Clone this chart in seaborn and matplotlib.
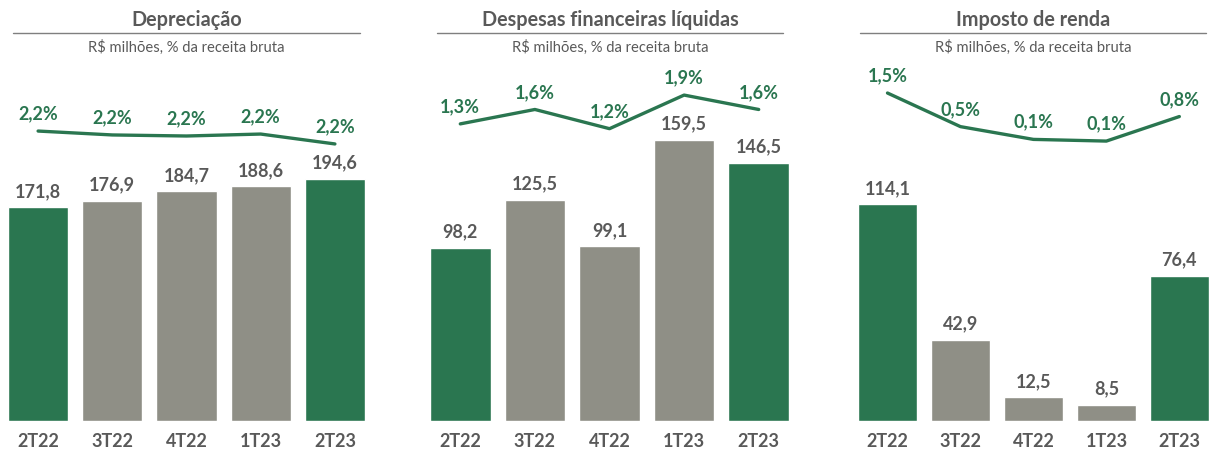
import numpy as np
import pandas as pd
import matplotlib
matplotlib.use("Agg")
import matplotlib.pyplot as plt
from matplotlib.lines import Line2D
import seaborn as sns

# ---------------- data ----------------
categories = ["2T22", "3T22", "4T22", "1T23", "2T23"]

dep_values = [171.8, 176.9, 184.7, 188.6, 194.6]
dep_pct = [2.243, 2.217, 2.21, 2.223, 2.157]

desp_values = [98.2, 125.5, 99.1, 159.5, 146.5]
desp_pct = [1.3, 1.6, 1.2, 1.9, 1.6]

ir_values = [114.1, 42.9, 12.5, 8.5, 76.4]
ir_pct = [1.5, 0.5, 0.12, 0.07, 0.8]

titles = ["Depreciação", "Despesas financeiras líquidas", "Imposto de renda"]
subtitle = "R$ milhões, % da receita bruta"

# ---------------- style ----------------
sns.set_theme(style="white")
plt.rcParams["font.family"] = ["Lato", "DejaVu Sans"]

GREEN = "#2A7650"
GRAY = "#8F8F86"
TXT = "#595959"
bar_colors = [GREEN, GRAY, GRAY, GRAY, GREEN]

W, H = 1210, 456
fig = plt.figure(figsize=(W / 100, H / 100), dpi=100)

panels = [
    dict(vals=dep_values, pct=dep_pct, left=1, right=372, xlim=(-0.5, 4.5),
         ymax=299, pylim=(0.31, 2.79), line=(13, 360)),
    dict(vals=desp_values, pct=desp_pct, left=423, right=796, xlim=(-0.5, 4.5),
         ymax=211, pylim=(-4.89, 2.86), line=(437, 783)),
    dict(vals=ir_values, pct=ir_pct, left=851, right=1210, xlim=(-0.5, 4.42),
         ymax=196, pylim=(-8.26, 2.81), line=(860, 1206)),
]

ax_bottom_px, ax_top_px = 422, 50

for i, p in enumerate(panels):
    ax = fig.add_axes([p["left"] / W, 1 - ax_bottom_px / H,
                       (p["right"] - p["left"]) / W, (ax_bottom_px - ax_top_px) / H])
    df = pd.DataFrame({"cat": categories, "val": p["vals"]})
    sns.barplot(data=df, x="cat", y="val", hue="cat", palette=bar_colors,
                legend=False, width=0.81, ax=ax, saturation=1)
    ax.set_xlim(*p["xlim"])
    ax.set_ylim(0, p["ymax"])
    for j, v in enumerate(p["vals"]):
        ax.annotate(f"{v:.1f}".replace(".", ","), (j, v), xytext=(0, 6),
                    textcoords="offset points", ha="center", va="bottom",
                    fontsize=13, fontweight="bold", color=TXT)
    ax.set_xlabel("")
    ax.set_ylabel("")
    ax.set_yticks([])
    ax.tick_params(axis="x", length=0, pad=8)
    for lab in ax.get_xticklabels():
        lab.set_fontweight("bold")
        lab.set_fontsize(13)
        lab.set_color(TXT)
    for s in ax.spines.values():
        s.set_visible(False)

    ax2 = ax.twinx()
    xs = np.arange(len(categories))
    sns.lineplot(x=xs, y=p["pct"], ax=ax2, color=GREEN, linewidth=2.4)
    ax2.set_ylim(*p["pylim"])
    ax2.set_xlim(*p["xlim"])
    ax2.set_yticks([])
    for s in ax2.spines.values():
        s.set_visible(False)
    for j, v in enumerate(p["pct"]):
        ax2.annotate(f"{v:.1f}".replace(".", ",") + "%", (j, v), xytext=(0, 7),
                     textcoords="offset points", ha="center", va="bottom",
                     fontsize=13, fontweight="bold", color=GREEN)

    cx = (p["line"][0] + p["line"][1]) / 2 / W
    fig.text(cx, 1 - 20 / H, titles[i], ha="center", va="center",
             fontsize=14.2, fontweight="bold", color=TXT)
    fig.text(cx, 1 - 47 / H, subtitle, ha="center", va="center",
             fontsize=10.6, color=TXT)
    fig.add_artist(Line2D([p["line"][0] / W, p["line"][1] / W], [1 - 34 / H, 1 - 34 / H],
                          color="#7F7F7F", linewidth=1, transform=fig.transFigure))

fig.savefig("out.png", dpi=100, facecolor="white")
